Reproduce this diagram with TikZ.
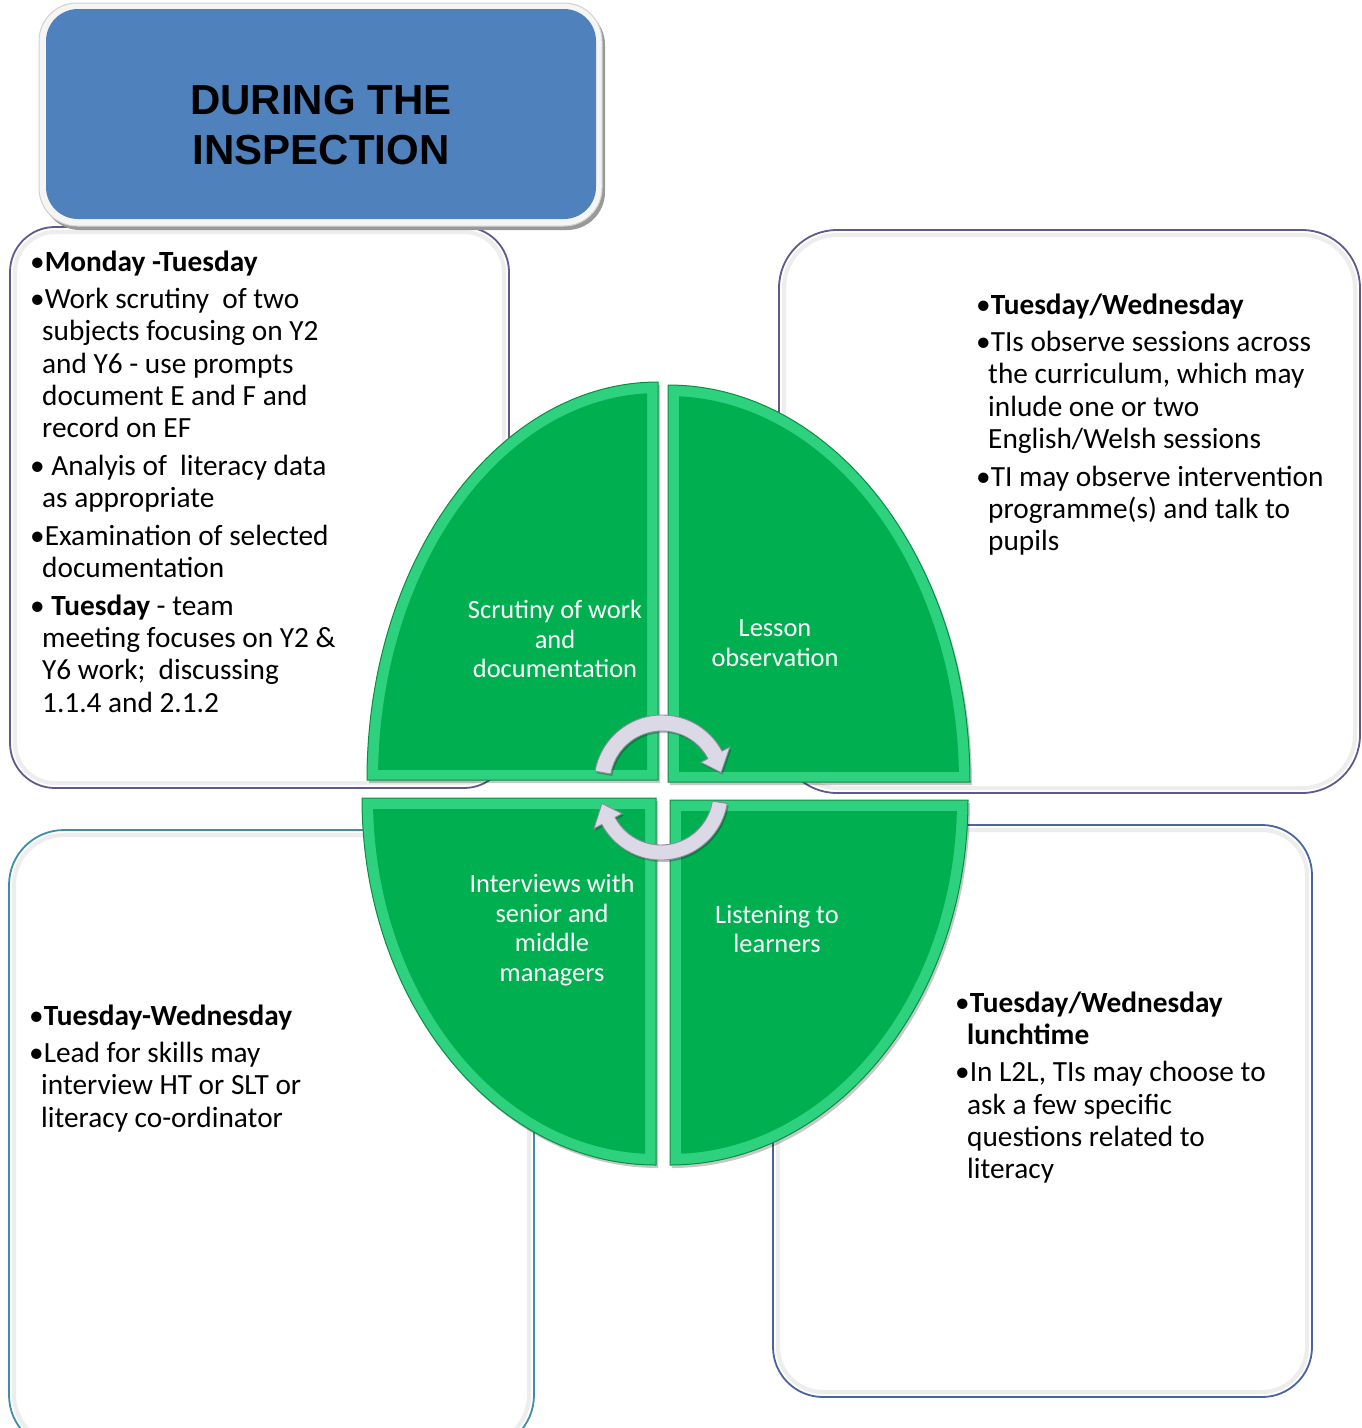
\documentclass[tikz,border=0pt]{standalone}
\usepackage{fontspec}
\setmainfont{Carlito}
\newfontfamily\headfont{Liberation Sans}
\definecolor{titleblue}{HTML}{4F81BD}
\definecolor{leafgreen}{HTML}{00B050}
\definecolor{leafbevel}{HTML}{2ED27E}
\definecolor{leafedge}{HTML}{0B8C44}
\definecolor{edgepurple}{HTML}{5E5A8C}
\definecolor{edgeteal}{HTML}{3E8FA6}
\definecolor{edgeblue}{HTML}{4A64A0}
\definecolor{arrowfill}{HTML}{DCD9E6}
\definecolor{arrowline}{HTML}{8D899E}

% one bullet paragraph with a hanging indent (lines inside are broken with \newline)
\newcommand\bul[1]{\noindent\hangindent=12pt\hangafter=1 •#1\par}
\newcommand\bodyblock[2]{\parbox[t]{#1}{\fontsize{29.3}{32.3}\selectfont\raggedright\setlength\parskip{5.3pt}#2}}

% quarter shapes of the central oval
\def\leafTL{(367,780) arc[start angle=180,end angle=270,x radius=291,y radius=398] -- (658,780) -- cycle}
\def\leafTR{(668,385) arc[start angle=270,end angle=360,x radius=302,y radius=397] -- (668,782) -- cycle}
\def\leafBL{(362,798) arc[start angle=180,end angle=90,x radius=294,y radius=367] -- (656,798) -- cycle}
\def\leafBR{(968,800) arc[start angle=0,end angle=90,x radius=298,y radius=365] -- (670,800) -- cycle}

\tikzset{
  infobox/.style={fill=white, line width=1.8pt},
  innerglow/.style={draw=black!7, line width=4pt},
  bodytext/.style={anchor=base west, inner sep=0pt},
  leaflabel/.style={text=white, align=center, inner sep=0pt, font=\fontsize{26.4}{29.5}\selectfont},
  leafshadow/.style={fill=black, opacity=0.22},
  cyclearrow/.style={fill=arrowfill, draw=arrowline, line width=0.9pt, line join=round},
  arrowshadow/.style={fill=black, opacity=0.25},
}

\begin{document}
\begin{tikzpicture}[x=1pt,y=-1pt]
\useasboundingbox (0,0) rectangle (1362,1428);
\clip (0,0) rectangle (1362,1428);

% ---- four information boxes ----
\draw[infobox, draw=edgepurple, rounded corners=45] (10,227) rectangle (509,788);
\draw[innerglow, rounded corners=40] (15,232) rectangle (504,783);
\draw[infobox, draw=edgepurple, rounded corners=58] (779,230) rectangle (1360,793);
\draw[innerglow, rounded corners=53] (784,235) rectangle (1355,788);
\draw[infobox, draw=edgeteal, rounded corners=55] (9,830) rectangle (534,1450);
\draw[innerglow, rounded corners=50] (14,835) rectangle (529,1445);
\draw[infobox, draw=edgeblue, rounded corners=50] (773,825) rectangle (1312,1397);
\draw[innerglow, rounded corners=45] (778,830) rectangle (1307,1392);

% ---- central oval in four quarters ----
\begin{scope}[shift={(2,3)}]
  \fill[leafshadow] \leafTL; \fill[leafshadow] \leafTR;
  \fill[leafshadow] \leafBL; \fill[leafshadow] \leafBR;
\end{scope}
\fill[leafbevel] \leafTL; \fill[leafbevel] \leafTR;
\fill[leafbevel] \leafBL; \fill[leafbevel] \leafBR;
\begin{scope}
  \clip (300,300) rectangle (647,769);
  \fill[leafgreen] (658,780) ellipse [x radius=280, y radius=387];
\end{scope}
\begin{scope}
  \clip (679,300) rectangle (1000,771);
  \fill[leafgreen] (668,782) ellipse [x radius=291, y radius=386];
\end{scope}
\begin{scope}
  \clip (300,809) rectangle (645,1200);
  \fill[leafgreen] (656,798) ellipse [x radius=283, y radius=356];
\end{scope}
\begin{scope}
  \clip (681,811) rectangle (1000,1200);
  \fill[leafgreen] (670,800) ellipse [x radius=287, y radius=354];
\end{scope}
\draw[leafedge, line width=1pt] \leafTL; \draw[leafedge, line width=1pt] \leafTR;
\draw[leafedge, line width=1pt] \leafBL; \draw[leafedge, line width=1pt] \leafBR;

% ---- labels of the quarters ----
\node[leaflabel] (scrutiny) at (555,639) {Scrutiny of work\\and\\documentation};
\node[leaflabel] (lesson) at (775,643) {Lesson\\observation};
\node[leaflabel] (interviews) at (552,930) {Interviews with\\senior and\\middle\\managers};
\node[leaflabel] (listening) at (777,929) {Listening to\\learners};

% ---- circular arrows ----
\begin{scope}[shift={(662,783)}]
  \begin{scope}[shift={(1.5,2)}]
    \fill[arrowshadow] (190:68) arc[start angle=190,end angle=332,radius=68] -- (332:77) -- (350:60) -- (332:44) -- (332:52) arc[start angle=332,end angle=190,radius=52] -- cycle;
  \end{scope}
  \draw[cyclearrow] (190:68) arc[start angle=190,end angle=332,radius=68] -- (332:77) -- (350:60) -- (332:44) -- (332:52) arc[start angle=332,end angle=190,radius=52] -- cycle;
\end{scope}
\begin{scope}[shift={(661,793)}]
  \begin{scope}[shift={(1.5,2)}]
    \fill[arrowshadow] (9:67) arc[start angle=9,end angle=152,radius=67] -- (152:76) -- (170:60) -- (152:44) -- (152:52) arc[start angle=152,end angle=9,radius=52] -- cycle;
  \end{scope}
  \draw[cyclearrow] (9:67) arc[start angle=9,end angle=152,radius=67] -- (152:76) -- (170:60) -- (152:44) -- (152:52) arc[start angle=152,end angle=9,radius=52] -- cycle;
\end{scope}

% ---- texts of the boxes ----
\node[bodytext] (monday) at (30,271) {\bodyblock{470pt}{%
\bul{\textbf{Monday -Tuesday}}
\bul{Work scrutiny\ \ of two\newline subjects focusing on Y2\newline and Y6 - use prompts\newline document E and F and\newline record on EF}
\bul{ Analyis of\ \ literacy data\newline as appropriate}
\bul{Examination of selected\newline documentation}
\bul{ \textbf{Tuesday} - team\newline meeting focuses on Y2 \&\newline Y6 work;\ \ discussing\newline 1.1.4 and 2.1.2}}};

\node[bodytext] (tuewed) at (976,314) {\bodyblock{380pt}{%
\bul{\textbf{Tuesday/Wednesday}}
\bul{TIs observe sessions across\newline the curriculum, which may\newline inlude one or two\newline English/Welsh sessions}
\bul{TI may observe intervention\newline programme(s) and talk to\newline pupils}}};

\node[bodytext] (tuewedlead) at (29,1025) {\bodyblock{480pt}{%
\bul{\textbf{Tuesday-Wednesday}}
\bul{Lead for skills may\newline interview HT or SLT or\newline literacy co-ordinator}}};

\node[bodytext] (lunch) at (955,1012) {\bodyblock{340pt}{%
\bul{\textbf{Tuesday/Wednesday\newline lunchtime}}
\bul{In L2L, TIs may choose to\newline ask a few specific\newline questions related to\newline literacy}}};

% ---- title panel ----
\fill[black!40, rounded corners=38] (42,7) rectangle (605,230);
\draw[fill=black!4, draw=black!18, line width=1pt, rounded corners=38] (39,3) rectangle (602,226);
\fill[titleblue, rounded corners=32] (46,9) rectangle (596,219);
\node[font=\headfont\bfseries\fontsize{42}{50}\selectfont, align=center, inner sep=0pt] (title) at (321,125) {DURING THE\\INSPECTION};
\end{tikzpicture}
\end{document}
